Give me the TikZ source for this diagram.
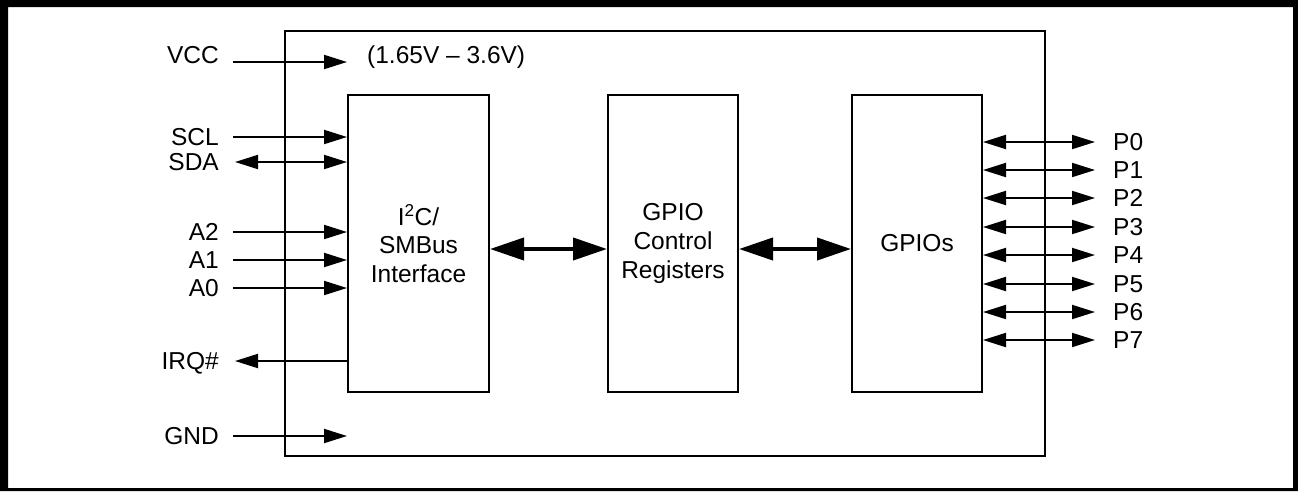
\documentclass[tikz,border=0pt]{standalone}
\usepackage{fontspec}
\setmainfont{Liberation Sans}
\usetikzlibrary{arrows.meta}
\begin{document}
\begin{tikzpicture}[x=1pt,y=-1pt,
  txt/.style={inner sep=0pt, font=\fontsize{24.5}{28.7}\selectfont},
  lbl/.style={txt, text height=17.5pt, text depth=0pt},
  blk/.style={draw, line width=2pt, inner sep=0pt, align=center,
    font=\fontsize{24.5}{28.7}\selectfont},
  sig/.style={line width=2pt, -{Triangle[length=23pt,width=14pt]}},
  bisig/.style={line width=2pt, {Triangle[length=23pt,width=14pt]}-{Triangle[length=23pt,width=14pt]}},
  bus/.style={line width=4pt, {Triangle[length=34pt,width=22pt]}-{Triangle[length=34pt,width=22pt]}},
  frame/.style={fill=black}
]
\useasboundingbox (0,0) rectangle (1298,491);
\fill[frame, even odd rule] (0,0) rectangle (1298,491) (8,7) rectangle (1293,488);

% chip outline and blocks
\node[blk, minimum width=760pt, minimum height=425pt] (chip) at (665,243.5) {};
\node[blk, minimum width=141pt, minimum height=297pt] (i2c) at (418.5,243.5) {I\textsuperscript{2}C/\\SMBus\\Interface};
\node[blk, minimum width=130pt, minimum height=297pt] (ctrl) at (673,243.5) {GPIO\\Control\\Registers};
\node[blk, minimum width=130pt, minimum height=297pt] (gpio) at (917,243.5) {GPIOs};

% internal buses
\coordinate (busy) at (0,249);
\draw[bus] (i2c.east |- busy) -- (ctrl.west |- busy);
\draw[bus] (ctrl.east |- busy) -- (gpio.west |- busy);

% left signals
\node[lbl, anchor=east] (vcc) at (219,55) {VCC};
\node[lbl, anchor=west] (vrange) at (367,55) {(1.65V -- 3.6V)};
\coordinate (vccs) at (233,62);
\coordinate (vcce) at (347,62);
\draw[sig] (vccs) -- (vcce);

\node[lbl, anchor=east] (scl) at (219,137) {SCL};
\coordinate (scls) at (233,137);
\draw[sig] (scls) -- (i2c.west |- scls);

\node[lbl, anchor=east] (sda) at (219,162) {SDA};
\coordinate (sdas) at (235,162);
\draw[bisig] (sdas) -- (i2c.west |- sdas);

\node[lbl, anchor=east] (a2) at (219,232) {A2};
\coordinate (a2s) at (233,232);
\draw[sig] (a2s) -- (i2c.west |- a2s);

\node[lbl, anchor=east] (a1) at (219,260) {A1};
\coordinate (a1s) at (233,260);
\draw[sig] (a1s) -- (i2c.west |- a1s);

\node[lbl, anchor=east] (a0) at (219,288) {A0};
\coordinate (a0s) at (233,288);
\draw[sig] (a0s) -- (i2c.west |- a0s);

\node[lbl, anchor=east] (irq) at (219,361) {IRQ\#};
\coordinate (irqs) at (235,361);
\draw[sig] (i2c.west |- irqs) -- (irqs);

\node[lbl, anchor=east] (gnd) at (219,436) {GND};
\coordinate (gnds) at (233,436);
\coordinate (gnde) at (347,436);
\draw[sig] (gnds) -- (gnde);

% right signals
\foreach \i/\yy in {0/142,1/170,2/198,3/227,4/255,5/284,6/312,7/340} {
  \node[lbl, anchor=west] (p\i) at (1113,\yy) {P\i};
  \coordinate (pe\i) at (1095,\yy);
  \draw[bisig] (gpio.east |- pe\i) -- (pe\i);
}
\end{tikzpicture}
\end{document}
